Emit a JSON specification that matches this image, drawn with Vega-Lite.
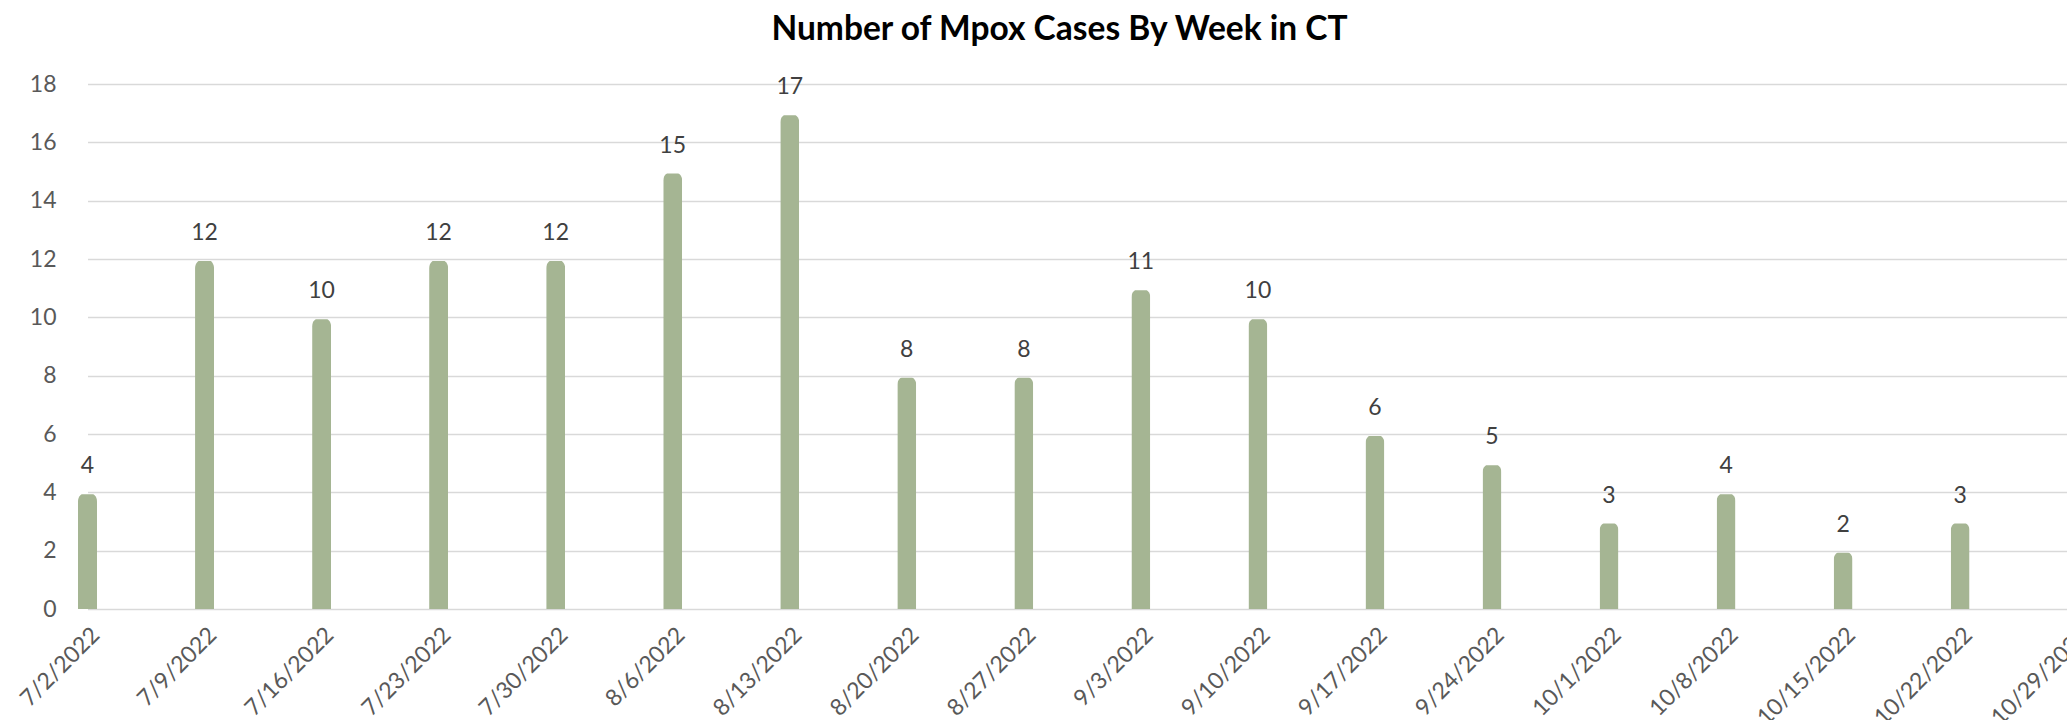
{
  "$schema": "https://vega.github.io/schema/vega-lite/v6.json",
  "width": 1989,
  "height": 525,
  "autosize": {"type": "none"},
  "padding": {"left": 78, "top": 84, "right": 0, "bottom": 111},
  "background": "white",
  "title": {
    "text": "Number of Mpox Cases By Week in CT",
    "font": "Lato",
    "fontSize": 33.5,
    "fontWeight": "bold",
    "color": "#000000",
    "anchor": "middle",
    "dx": -13,
    "offset": 26
  },
  "config": {"view": {"stroke": null}},
  "data": {
    "values": [
      {"week": "7/2/2022", "cases": 4},
      {"week": "7/9/2022", "cases": 12},
      {"week": "7/16/2022", "cases": 10},
      {"week": "7/23/2022", "cases": 12},
      {"week": "7/30/2022", "cases": 12},
      {"week": "8/6/2022", "cases": 15},
      {"week": "8/13/2022", "cases": 17},
      {"week": "8/20/2022", "cases": 8},
      {"week": "8/27/2022", "cases": 8},
      {"week": "9/3/2022", "cases": 11},
      {"week": "9/10/2022", "cases": 10},
      {"week": "9/17/2022", "cases": 6},
      {"week": "9/24/2022", "cases": 5},
      {"week": "10/1/2022", "cases": 3},
      {"week": "10/8/2022", "cases": 4},
      {"week": "10/15/2022", "cases": 2},
      {"week": "10/22/2022", "cases": 3}
    ]
  },
  "encoding": {
    "x": {
      "field": "week",
      "type": "ordinal",
      "sort": null,
      "scale": {
        "type": "point",
        "padding": 0,
        "domain": ["7/2/2022", "7/9/2022", "7/16/2022", "7/23/2022", "7/30/2022", "8/6/2022", "8/13/2022", "8/20/2022", "8/27/2022", "9/3/2022", "9/10/2022", "9/17/2022", "9/24/2022", "10/1/2022", "10/8/2022", "10/15/2022", "10/22/2022", "10/29/2022"],
        "range": [9.5, 1999.2]
      },
      "axis": {
        "title": null,
        "labelAngle": -45,
        "labelAlign": "right",
        "labelBaseline": "middle",
        "labelFont": "Lato",
        "labelFontSize": 23,
        "labelColor": "#595959",
        "labelPadding": 22,
        "labelOffset": 8,
        "labelOverlap": false,
        "labelBound": false,
        "domain": false,
        "ticks": false,
        "grid": false
      }
    },
    "y": {
      "field": "cases",
      "type": "quantitative",
      "scale": {"domain": [0, 18]},
      "axis": {
        "title": null,
        "values": [0, 2, 4, 6, 8, 10, 12, 14, 16, 18],
        "labelFont": "Lato",
        "labelFontSize": 23,
        "labelColor": "#595959",
        "labelPadding": 22,
        "domain": false,
        "ticks": false,
        "gridColor": "#d9d9d9",
        "gridWidth": 1.5
      }
    }
  },
  "layer": [
    {
      "mark": {
        "type": "bar",
        "width": 19,
        "color": "#a5b593",
        "cornerRadiusTopLeft": 9,
        "cornerRadiusTopRight": 9,
        "yOffset": 2,
        "y2Offset": -6
      }
    },
    {
      "mark": {
        "type": "text",
        "font": "Lato",
        "fontSize": 23,
        "color": "#404040",
        "baseline": "alphabetic",
        "dy": -19
      },
      "encoding": {"text": {"field": "cases", "type": "quantitative"}}
    }
  ]
}
